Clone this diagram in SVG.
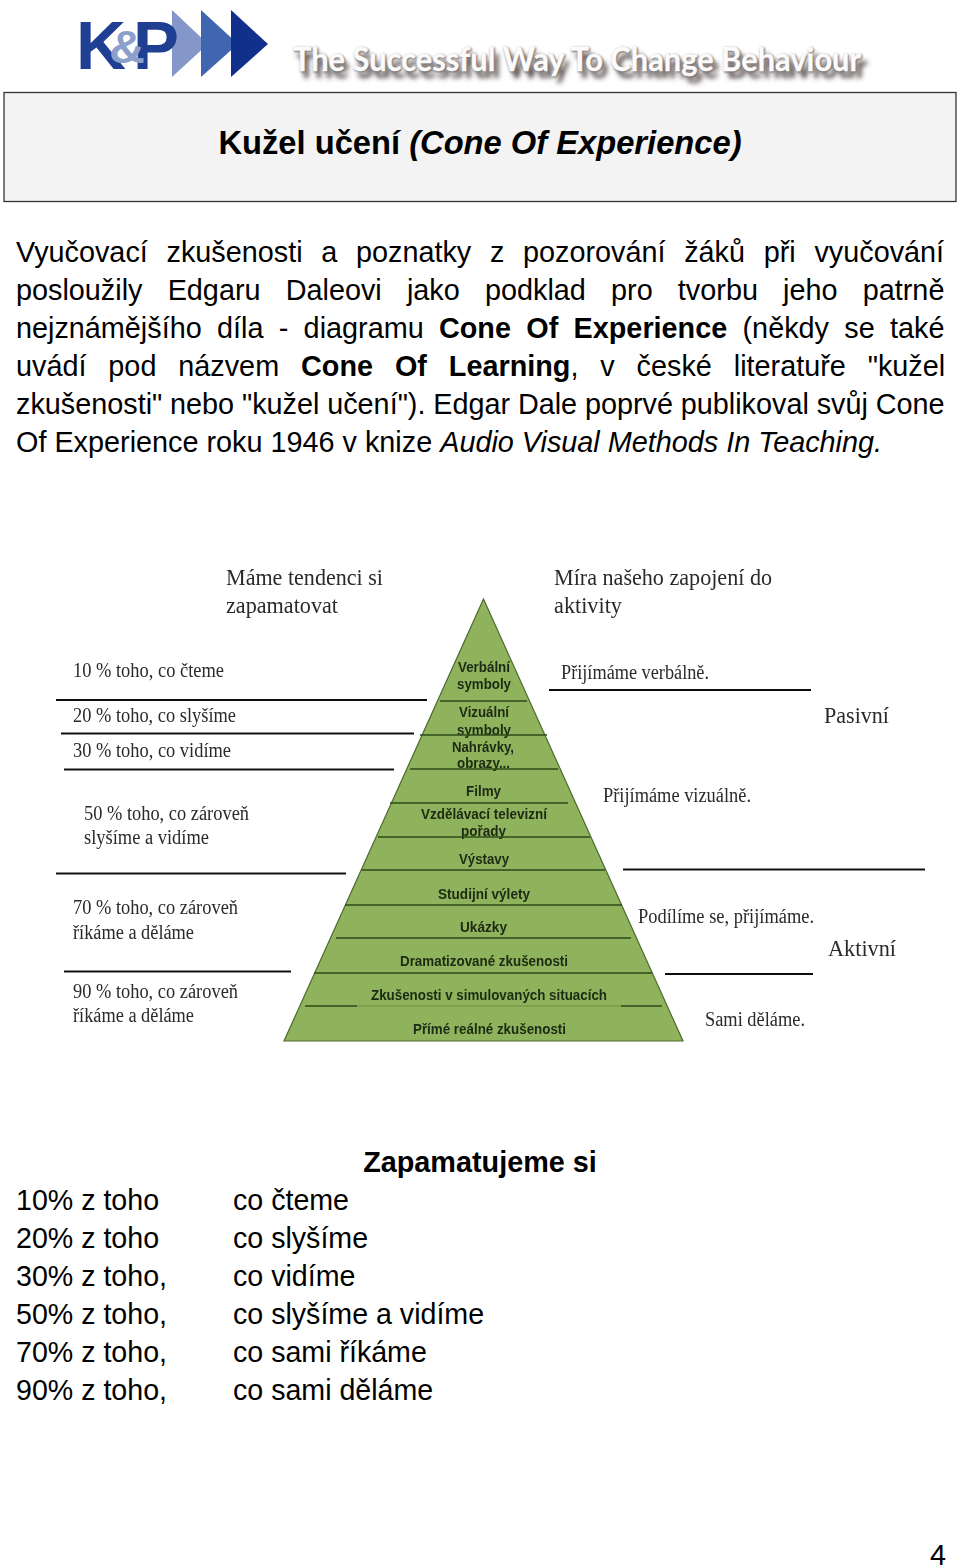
<svg xmlns="http://www.w3.org/2000/svg" width="960" height="1566" viewBox="0 0 960 1566">
<style>
text{font-family:"Liberation Sans",Arial,sans-serif;fill:#000}
.b{font-size:28.8px}
.r{font-size:28.6px}
.s{font-family:"Liberation Serif","Times New Roman",serif;fill:#2a2a2a;font-size:20px}
.l{font-size:23px}
.g{font-weight:bold;font-size:14.4px;fill:#1c2a12;text-anchor:middle}
.k{stroke:#111;stroke-width:2.2;fill:none}
.p{stroke:#2f4a1c;stroke-width:1.3;fill:none}
.t{font-family:"Lato",sans-serif;font-weight:bold;font-size:32px}
</style>
<defs>
<filter id="sh" x="-5%" y="-60%" width="110%" height="240%"><feGaussianBlur stdDeviation="2.8"/></filter>
<filter id="halo" x="-5%" y="-60%" width="110%" height="240%"><feGaussianBlur stdDeviation="1.2"/></filter>
<filter id="soft" x="-2%" y="-2%" width="104%" height="104%"><feGaussianBlur stdDeviation="0.35"/></filter>
</defs>
<g id="logo">
<polygon points="172,10 208,44 172,77" fill="#8497c8"/>
<polygon points="201,10 238,44 201,77" fill="#3f66ae"/>
<polygon points="231,10 268,44 231,77" fill="#10308c"/>
<text x="76" y="69" font-size="68" font-weight="bold" textLength="50" lengthAdjust="spacingAndGlyphs" style="fill:#1f3f92">K</text>
<text x="133" y="69" font-size="68" font-weight="bold" textLength="46" lengthAdjust="spacingAndGlyphs" style="fill:#1f3f92">P</text>
<text x="109" y="63" font-size="46" font-weight="bold" textLength="36" lengthAdjust="spacingAndGlyphs" style="fill:#8da0cc">&amp;</text>
<text class="t" x="297" y="78" textLength="570" lengthAdjust="spacingAndGlyphs" filter="url(#sh)" style="fill:#4a3c3c">The Successful Way To Change Behaviour</text>
<text class="t" x="294" y="72" textLength="568" lengthAdjust="spacingAndGlyphs" filter="url(#halo)" style="fill:#7a7272;stroke:#7a7272;stroke-width:1">The Successful Way To Change Behaviour</text>
<text class="t" x="293" y="71" textLength="568" lengthAdjust="spacingAndGlyphs" style="fill:#fbfbfb;stroke:#fbfbfb;stroke-width:.3">The Successful Way To Change Behaviour</text>
</g>
<g id="title">
<rect x="4" y="92.500" width="952" height="109" fill="#f3f3f3" stroke="#333" stroke-width="1.300"/>
<text x="480" y="153.500" text-anchor="middle" font-size="32.700" font-weight="bold">Kužel učení <tspan font-style="italic">(Cone Of Experience)</tspan></text>
</g>
<g id="paragraph">
<text class="b" x="16" y="262" word-spacing="10.700">Vyučovací zkušenosti a poznatky z pozorování žáků při vyučování</text>
<text class="b" x="16" y="300" word-spacing="17.200">posloužily Edgaru Daleovi jako podklad pro tvorbu jeho patrně</text>
<text class="b" x="16" y="338" word-spacing="7.300">nejznámějšího díla - diagramu <tspan font-weight="bold">Cone Of Experience</tspan> (někdy se také</text>
<text class="b" x="16" y="376" word-spacing="13.900">uvádí pod názvem <tspan font-weight="bold">Cone Of Learning</tspan>, v české literatuře "kužel</text>
<text class="b" x="16" y="414" word-spacing="-0.200">zkušenosti" nebo "kužel učení"). Edgar Dale poprvé publikoval svůj Cone</text>
<text class="b" x="16" y="452">Of Experience roku 1946 v knize <tspan font-style="italic">Audio Visual Methods In Teaching.</tspan></text>
</g>
<g id="cone" filter="url(#soft)">
<polygon points="483.500,599 683,1041 284,1041" fill="#8fb35c" stroke="#4c6b2e" stroke-width="1.200"/>
<text class="g" x="484" y="672" textLength="52" lengthAdjust="spacingAndGlyphs">Verbální</text>
<text class="g" x="484" y="689" textLength="54" lengthAdjust="spacingAndGlyphs">symboly</text>
<text class="g" x="484" y="717" textLength="50" lengthAdjust="spacingAndGlyphs">Vizuální</text>
<text class="g" x="484" y="735" textLength="54" lengthAdjust="spacingAndGlyphs">symboly</text>
<text class="g" x="483" y="752" textLength="62" lengthAdjust="spacingAndGlyphs">Nahrávky,</text>
<text class="g" x="483.500" y="768" textLength="53" lengthAdjust="spacingAndGlyphs">obrazy...</text>
<text class="g" x="483.500" y="796" textLength="35" lengthAdjust="spacingAndGlyphs">Filmy</text>
<text class="g" x="484" y="819" textLength="126" lengthAdjust="spacingAndGlyphs">Vzdělávací televizní</text>
<text class="g" x="483.500" y="836" textLength="45" lengthAdjust="spacingAndGlyphs">pořady</text>
<text class="g" x="484" y="864" textLength="50" lengthAdjust="spacingAndGlyphs">Výstavy</text>
<text class="g" x="484" y="899" textLength="92" lengthAdjust="spacingAndGlyphs">Studijní výlety</text>
<text class="g" x="483.500" y="932" textLength="47" lengthAdjust="spacingAndGlyphs">Ukázky</text>
<text class="g" x="484" y="966" textLength="168" lengthAdjust="spacingAndGlyphs">Dramatizované zkušenosti</text>
<text class="g" x="489" y="1000" textLength="236" lengthAdjust="spacingAndGlyphs">Zkušenosti v simulovaných situacích</text>
<text class="g" x="489.500" y="1034" textLength="153" lengthAdjust="spacingAndGlyphs">Přímé reálné zkušenosti</text>
</g>
<g id="connectors" filter="url(#soft)">
<path class="p" d="M440 701H527M420 735H547M410 769H558M390 803H568M378 837H590M362 870H605M345 905H622M336 938H631M314 973H652M305 1006H357M621 1006H662"/>
<path d="M357 1006H621" stroke="#6f8f45" stroke-width="1" fill="none"/>
<path class="k" d="M56 700H427M61 733.500H414M64 769.500H394M56 873.500H346M64 971.500H291M549 690H811M623 869.500H925M665 974H813"/>
</g>
<g id="cone-labels" filter="url(#soft)">
<text class="s l" x="226" y="585" textLength="157" lengthAdjust="spacingAndGlyphs">Máme tendenci si</text>
<text class="s l" x="226" y="613" textLength="112" lengthAdjust="spacingAndGlyphs">zapamatovat</text>
<text class="s" x="73" y="677" textLength="151" lengthAdjust="spacingAndGlyphs">10 % toho, co čteme</text>
<text class="s" x="73" y="722" textLength="163" lengthAdjust="spacingAndGlyphs">20 % toho, co slyšíme</text>
<text class="s" x="73" y="757" textLength="158" lengthAdjust="spacingAndGlyphs">30 % toho, co vidíme</text>
<text class="s" x="84" y="820" textLength="165" lengthAdjust="spacingAndGlyphs">50 % toho, co zároveň</text>
<text class="s" x="84" y="844" textLength="125" lengthAdjust="spacingAndGlyphs">slyšíme a vidíme</text>
<text class="s" x="73" y="914" textLength="165" lengthAdjust="spacingAndGlyphs">70 % toho, co zároveň</text>
<text class="s" x="73" y="939" textLength="121" lengthAdjust="spacingAndGlyphs">říkáme a děláme</text>
<text class="s" x="73" y="998" textLength="165" lengthAdjust="spacingAndGlyphs">90 % toho, co zároveň</text>
<text class="s" x="73" y="1022" textLength="121" lengthAdjust="spacingAndGlyphs">říkáme a děláme</text>
<text class="s l" x="554" y="585" textLength="218" lengthAdjust="spacingAndGlyphs">Míra našeho zapojení do</text>
<text class="s l" x="554" y="613" textLength="68" lengthAdjust="spacingAndGlyphs">aktivity</text>
<text class="s" x="561" y="679" textLength="148" lengthAdjust="spacingAndGlyphs">Přijímáme verbálně.</text>
<text class="s" x="603" y="802" textLength="148" lengthAdjust="spacingAndGlyphs">Přijímáme vizuálně.</text>
<text class="s" x="638" y="923" textLength="176" lengthAdjust="spacingAndGlyphs">Podílíme se, přijímáme.</text>
<text class="s" x="705" y="1026" textLength="100" lengthAdjust="spacingAndGlyphs">Sami děláme.</text>
<text class="s l" x="824" y="723" textLength="65" lengthAdjust="spacingAndGlyphs">Pasivní</text>
<text class="s l" x="828" y="956" textLength="68" lengthAdjust="spacingAndGlyphs">Aktivní</text>
</g>
<g id="table">
<text class="b" x="480" y="1172" text-anchor="middle" font-weight="bold">Zapamatujeme si</text>
<text class="r" x="16" y="1210">10% z toho</text><text class="r" x="233" y="1210">co čteme</text>
<text class="r" x="16" y="1248">20% z toho</text><text class="r" x="233" y="1248">co slyšíme</text>
<text class="r" x="16" y="1286">30% z toho,</text><text class="r" x="233" y="1286">co vidíme</text>
<text class="r" x="16" y="1324">50% z toho,</text><text class="r" x="233" y="1324">co slyšíme a vidíme</text>
<text class="r" x="16" y="1362">70% z toho,</text><text class="r" x="233" y="1362">co sami říkáme</text>
<text class="r" x="16" y="1400">90% z toho,</text><text class="r" x="233" y="1400">co sami děláme</text>
</g>
<text id="page" class="b" x="930" y="1565">4</text>
</svg>
